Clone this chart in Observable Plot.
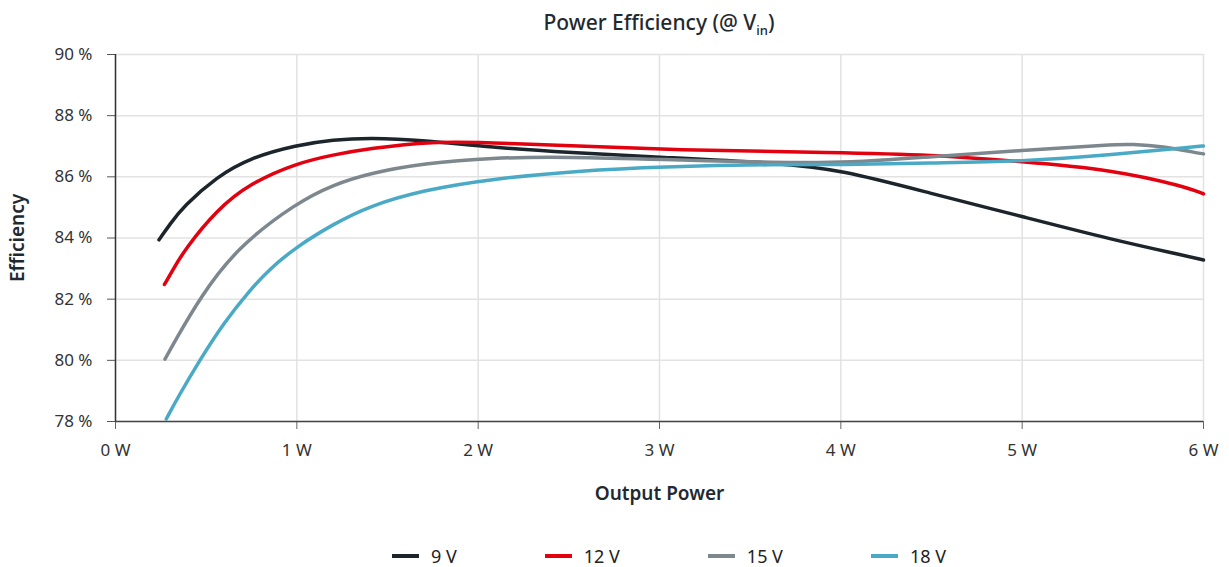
<!DOCTYPE html>
<html>
<head>
<meta charset="utf-8">
<script src="https://cdn.jsdelivr.net/npm/d3@7"></script>
<script src="https://cdn.jsdelivr.net/npm/@observablehq/plot@0.6"></script>
<style>
  body { margin: 0; background: #fff; font-family: "Noto Sans", sans-serif; color: #1f2a30; }
  #title { height: 34px; line-height: 44px; padding-left: 115px; width: 1088px; text-align: center; font-size: 21px; font-weight: 500; color: #1f2a30; }
  #title sub { font-size: 13px; vertical-align: -5px; line-height: 0; }
  g[aria-label="x-axis label"] text, g[aria-label="y-axis label"] text { font-size: 19px; font-weight: 600; fill: #1f2a30; }
  #legend { display: flex; justify-content: center; gap: 88px; padding-left: 125px; width: 1088px; padding-top: 30px; font-size: 18px; color: #222; }
  .item { display: flex; align-items: center; gap: 12px; line-height: 24px; }
  .sw { width: 27px; height: 4px; }
</style>
</head>
<body>
<div id="title">Power Efficiency (@ V<sub>in</sub>)</div>
<div id="chart"></div>
<div id="legend"></div>
<script>
const seriesNames = ["9 V", "12 V", "15 V", "18 V"];
const seriesColors = ["#1c252c", "#e3000f", "#7d878e", "#4aaac6"];
const xTicks = [0, 1, 2, 3, 4, 5, 6];
const yTicks = [78, 80, 82, 84, 86, 88, 90];

const power9 = [0.24, 0.30, 0.374, 0.558, 0.742, 1.0, 1.2, 1.4, 1.70, 2.07, 2.51, 3.0, 3.66, 4.0, 4.49, 5.0, 5.5, 5.9, 6.0];
const eff9   = [83.94, 84.45, 85.03, 86.0, 86.62, 87.04, 87.21, 87.28, 87.20, 86.96, 86.79, 86.64, 86.45, 86.23, 85.47, 84.70, 83.94, 83.42, 83.28];

const power12 = [0.27, 0.32, 0.383, 0.558, 0.742, 1.0, 1.2, 1.4, 1.75, 2.07, 3.0, 4.0, 4.49, 5.0, 5.5, 5.9, 6.0];
const eff12   = [82.48, 83.0, 83.63, 84.92, 85.79, 86.45, 86.72, 86.93, 87.16, 87.13, 86.88, 86.79, 86.72, 86.50, 86.23, 85.68, 85.44];

const power15 = [0.273, 0.33, 0.466, 0.668, 1.0, 1.2, 1.4, 1.70, 2.07, 2.51, 3.0, 3.66, 4.05, 4.49, 5.0, 5.5, 5.6, 5.78, 5.95, 6.0];
const eff15   = [80.04, 80.65, 82.05, 83.68, 85.16, 85.74, 86.12, 86.44, 86.63, 86.65, 86.57, 86.46, 86.46, 86.66, 86.86, 87.06, 87.07, 87.0, 86.8, 86.75];

const power18 = [0.28, 0.34, 0.466, 0.6, 0.742, 0.85, 1.0, 1.2, 1.4, 1.70, 2.07, 2.56, 3.0, 3.66, 4.0, 4.49, 5.0, 5.5, 5.95, 6.0];
const eff18   = [78.08, 78.75, 80.02, 81.25, 82.30, 82.99, 83.72, 84.45, 85.05, 85.57, 85.93, 86.20, 86.33, 86.41, 86.39, 86.46, 86.50, 86.72, 86.98, 87.01];

const powers = [power9, power12, power15, power18];
const effs = [eff9, eff12, eff15, eff18];
const data = [];
seriesNames.forEach((s, i) => powers[i].forEach((p, j) => data.push({series: s, power: p, eff: effs[i][j]})));

const chart = Plot.plot({
  width: 1229,
  height: 480,
  marginTop: 20,
  marginLeft: 115,
  marginRight: 26,
  marginBottom: 93,
  style: { fontFamily: "Noto Sans, sans-serif", fontSize: "17px", color: "#333", background: "#fff" },
  x: { domain: [0, 6] },
  y: { domain: [78, 90] },
  color: { domain: seriesNames, range: seriesColors },
  marks: [
    Plot.gridX(xTicks, { stroke: "#e2e2e2", strokeOpacity: 1, strokeWidth: 1.5 }),
    Plot.gridY(yTicks, { stroke: "#e2e2e2", strokeOpacity: 1, strokeWidth: 1.5 }),
    Plot.axisX({ ticks: xTicks, tickFormat: d => `${d} W`, tickSize: 8, tickPadding: 14, stroke: "#666", fill: "#333",
      label: "Output Power", labelAnchor: "center", labelArrow: "none", labelOffset: 78 }),
    Plot.axisY({ ticks: yTicks, tickFormat: d => `${d} %`, tickSize: 8, tickPadding: 15, stroke: "#555", fill: "#333",
      label: "Efficiency", labelAnchor: "center", labelArrow: "none", labelOffset: 105 }),
    Plot.ruleX([xTicks[0]], { stroke: "#333", strokeWidth: 1.5 }),
    Plot.ruleY([yTicks[0]], { stroke: "#444", strokeWidth: 1.5 }),
    Plot.line(data, { x: "power", y: "eff", z: "series", stroke: "series", curve: "basis", strokeWidth: 3.5 })
  ]
});
document.getElementById("chart").appendChild(chart);

const legend = document.getElementById("legend");
seriesNames.forEach((s, i) => {
  const it = document.createElement("div");
  it.className = "item";
  const sw = document.createElement("div");
  sw.className = "sw";
  sw.style.background = seriesColors[i];
  const t = document.createElement("span");
  t.textContent = s;
  it.appendChild(sw);
  it.appendChild(t);
  legend.appendChild(it);
});
</script>
</body>
</html>
